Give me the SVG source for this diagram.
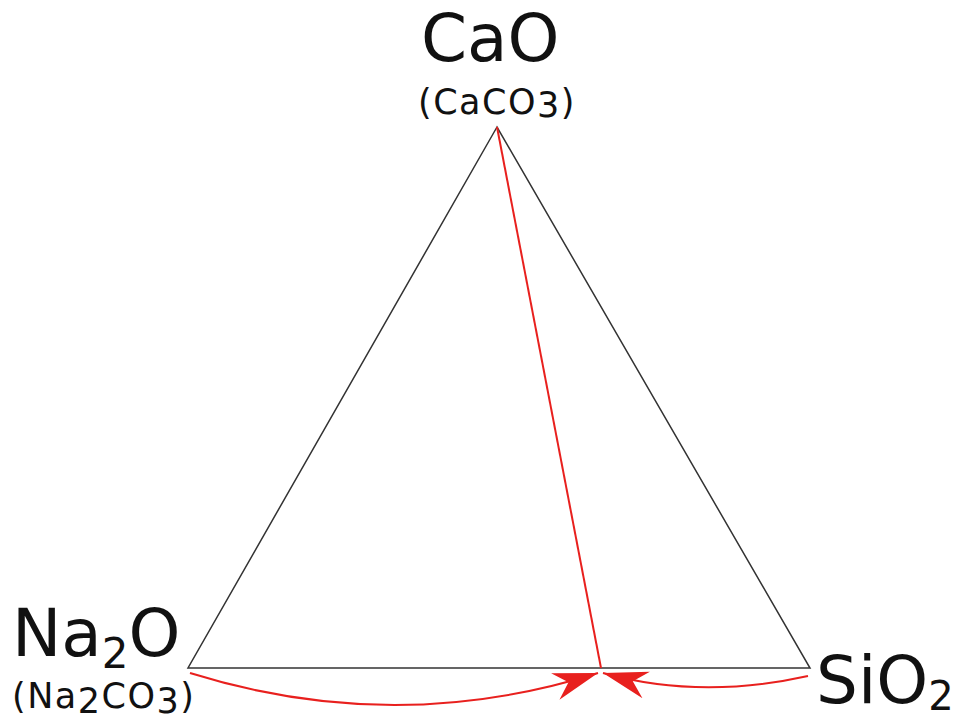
<svg xmlns="http://www.w3.org/2000/svg" width="957" height="723" viewBox="0 0 957 723">
<style>
.big{font-family:"DejaVu Sans",sans-serif;font-size:66px;fill:#111}
.small{font-family:"DejaVu Sans",sans-serif;font-size:35px;letter-spacing:1.5px;fill:#111}
.edge{stroke:#333;stroke-width:1.5;fill:none}
.red{stroke:#e8201e;stroke-width:2;fill:none}
</style>
<defs>
<marker id="ah" markerUnits="userSpaceOnUse" markerWidth="50" markerHeight="32" viewBox="-44 -15 46 30" refX="0" refY="0" orient="auto">
<path d="M0,0 L-42,-13 L-29,0 L-42,13 Z" fill="#e8201e"/>
</marker>
</defs>
<rect width="957" height="723" fill="#fff"/>
<g id="triangle">
<path class="edge" d="M497,127 L188,668 L810,668 Z"/>
</g>
<g id="connectors">
<path class="red" d="M497,127 L601,668"/>
<path class="red" d="M190,673 Q395,737 598,673" marker-end="url(#ah)"/>
<path class="red" d="M808,676 Q700,700 603,673" marker-end="url(#ah)"/>
</g>
<g id="cao">
<text class="big" x="421" y="61">CaO</text>
<text class="small" x="418" y="114">(CaCO<tspan dy="3">3</tspan><tspan dy="-3">)</tspan></text>
</g>
<g id="na2o">
<text class="big" x="12" y="656">Na<tspan font-size="42" dy="12">2</tspan><tspan dy="-12">O</tspan></text>
<text class="small" x="12" y="708">(Na<tspan dy="5">2</tspan><tspan dy="-5">CO</tspan><tspan dy="5">3</tspan><tspan dy="-5">)</tspan></text>
</g>
<g id="sio2">
<text class="big" x="816" y="703">SiO<tspan font-size="40" dy="7">2</tspan></text>
</g>
</svg>
